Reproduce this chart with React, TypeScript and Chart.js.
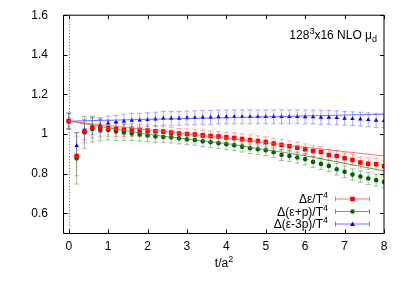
import { useEffect, useRef } from "react";
import { Chart, registerables } from "chart.js";

Chart.register(...registerables);

const FONT = '"Liberation Sans", Arial, Helvetica, sans-serif';

// flow time t/a^2
const tValues = [
  0, 0.2, 0.4, 0.6, 0.8, 1.0, 1.2, 1.4, 1.6, 1.8, 2.0, 2.2, 2.4, 2.6, 2.8, 3.0, 3.2, 3.4, 3.6, 3.8,
  4.0, 4.2, 4.4, 4.6, 4.8, 5.0, 5.2, 5.4, 5.6, 5.8, 6.0, 6.2, 6.4, 6.6, 6.8, 7.0, 7.2, 7.4, 7.6, 7.8, 8.0,
];

// Δε/T^4
const epsValues = [
  1.065, 0.889, 1.015, 1.032, 1.03, 1.029, 1.025, 1.022, 1.02, 1.018, 1.017, 1.014, 1.012, 1.007, 1.002, 1.0, 0.998, 0.993, 0.99, 0.987,
  0.983, 0.98, 0.975, 0.97, 0.965, 0.96, 0.952, 0.945, 0.938, 0.931, 0.923, 0.914, 0.909, 0.894, 0.889, 0.877, 0.869, 0.856, 0.85, 0.847, 0.837,
];
const epsErrors = [
  0.04, 0.1, 0.06, 0.052, 0.045, 0.04, 0.037, 0.034, 0.032, 0.03, 0.029, 0.028, 0.027, 0.027, 0.026, 0.026, 0.026, 0.026, 0.026, 0.026,
  0.026, 0.026, 0.026, 0.026, 0.026, 0.026, 0.026, 0.027, 0.027, 0.027, 0.027, 0.027, 0.027, 0.028, 0.028, 0.028, 0.028, 0.028, 0.029, 0.029, 0.029,
];

// Δ(ε+p)/T^4
const enthValues = [
  1.065, 0.877, 1.008, 1.025, 1.02, 1.02, 1.013, 1.008, 1.003, 0.998, 0.993, 0.988, 0.985, 0.983, 0.978, 0.973, 0.97, 0.963, 0.958, 0.953,
  0.948, 0.943, 0.936, 0.928, 0.923, 0.918, 0.908, 0.894, 0.889, 0.881, 0.873, 0.859, 0.849, 0.839, 0.822, 0.809, 0.795, 0.785, 0.775, 0.767, 0.758,
];
const enthErrors = [
  0.04, 0.13, 0.08, 0.065, 0.055, 0.05, 0.045, 0.04, 0.036, 0.033, 0.031, 0.03, 0.029, 0.028, 0.028, 0.027, 0.027, 0.027, 0.027, 0.027,
  0.027, 0.027, 0.027, 0.027, 0.027, 0.027, 0.027, 0.028, 0.028, 0.028, 0.028, 0.028, 0.028, 0.029, 0.029, 0.029, 0.029, 0.029, 0.03, 0.03, 0.03,
];

// Δ(ε-3p)/T^4
const traceValues = [
  1.065, 0.941, 1.02, 1.04, 1.045, 1.054, 1.059, 1.065, 1.069, 1.07, 1.072, 1.075, 1.079, 1.079, 1.079, 1.081, 1.082, 1.084, 1.084, 1.086,
  1.086, 1.087, 1.087, 1.087, 1.087, 1.087, 1.087, 1.087, 1.087, 1.087, 1.086, 1.086, 1.084, 1.084, 1.082, 1.079, 1.077, 1.075, 1.072, 1.069, 1.067,
];
const traceErrors = [
  0.04, 0.065, 0.05, 0.042, 0.038, 0.036, 0.035, 0.035, 0.035, 0.035, 0.035, 0.035, 0.035, 0.035, 0.035, 0.035, 0.035, 0.035, 0.035, 0.035,
  0.035, 0.035, 0.035, 0.035, 0.035, 0.035, 0.035, 0.035, 0.035, 0.035, 0.035, 0.035, 0.035, 0.035, 0.035, 0.035, 0.035, 0.035, 0.035, 0.035, 0.035,
];

// fitted curves
const fitT = [0, 2, 4, 6, 8];
const fitEps = [1.065, 1.021, 0.979, 0.933, 0.889];
const fitEnth = [1.065, 0.998, 0.952, 0.89, 0.814];
const fitTrace = [1.065, 1.074, 1.082, 1.091, 1.1];

const xTickValues = [0, 1, 2, 3, 4, 5, 6, 7, 8];
const yTickValues = [0.6, 0.8, 1.0, 1.2, 1.4, 1.6];
const X_MIN = -0.12;
const X_MAX = 8;
const Y_MIN = 0.5;
const Y_MAX = 1.6;

type Part = { text: string; mode?: "sup" | "sub" };

const legendItems: { parts: Part[]; color: string; bar: string; style: string }[] = [
  { parts: [{ text: "Δε/T" }, { text: "4", mode: "sup" }], color: "#ff0000", bar: "rgba(255,60,60,0.7)", style: "rect" },
  { parts: [{ text: "Δ(ε+p)/T" }, { text: "4", mode: "sup" }], color: "#006400", bar: "rgba(40,130,40,0.7)", style: "circle" },
  { parts: [{ text: "Δ(ε-3p)/T" }, { text: "4", mode: "sup" }], color: "#0000ff", bar: "rgba(60,60,255,0.7)", style: "triangle" },
];

const titleParts: Part[] = [
  { text: "128" },
  { text: "3", mode: "sup" },
  { text: "x16 NLO μ" },
  { text: "d", mode: "sub" },
];
const xTitleParts: Part[] = [{ text: "t/a" }, { text: "2", mode: "sup" }];

function drawParts(ctx: CanvasRenderingContext2D, parts: Part[], x: number, y: number, align: "left" | "right" | "center") {
  const main = `12px ${FONT}`;
  const small = `9px ${FONT}`;
  let total = 0;
  const widths = parts.map((p) => {
    ctx.font = p.mode ? small : main;
    const w = ctx.measureText(p.text).width;
    total += w;
    return w;
  });
  let cx = align === "left" ? x : align === "right" ? x - total : x - total / 2;
  ctx.textAlign = "left";
  ctx.textBaseline = "alphabetic";
  parts.forEach((p, i) => {
    ctx.font = p.mode ? small : main;
    const dy = p.mode === "sup" ? -5 : p.mode === "sub" ? 3 : 0;
    ctx.fillText(p.text, cx, y + dy);
    cx += widths[i];
  });
}

const errorBarPlugin = {
  id: "errorBars",
  beforeDatasetsDraw(chart: any) {
    const ctx = chart.ctx as CanvasRenderingContext2D;
    const xs = chart.scales.x;
    const ys = chart.scales.y;
    const area = chart.chartArea;
    ctx.save();
    ctx.beginPath();
    ctx.rect(area.left, area.top, area.right - area.left, area.bottom - area.top);
    ctx.clip();
    // dotted line at t = 0
    const x0 = Math.round(xs.getPixelForValue(0)) + 0.5;
    ctx.strokeStyle = "#666";
    ctx.lineWidth = 1;
    ctx.setLineDash([1, 2]);
    ctx.beginPath();
    ctx.moveTo(x0, area.top);
    ctx.lineTo(x0, area.bottom);
    ctx.stroke();
    ctx.setLineDash([]);
    chart.data.datasets.forEach((ds: any) => {
      if (!ds.errors) return;
      ctx.strokeStyle = ds.errorColor;
      ctx.lineWidth = 1;
      ds.data.forEach((pt: any, i: number) => {
        const e = ds.errors[i];
        const px = xs.getPixelForValue(pt.x);
        const pTop = ys.getPixelForValue(pt.y + e);
        const pBot = ys.getPixelForValue(pt.y - e);
        const cap = 2.5;
        ctx.beginPath();
        ctx.moveTo(px, pTop);
        ctx.lineTo(px, pBot);
        ctx.moveTo(px - cap, pTop);
        ctx.lineTo(px + cap, pTop);
        ctx.moveTo(px - cap, pBot);
        ctx.lineTo(px + cap, pBot);
        ctx.stroke();
      });
    });
    ctx.restore();
  },
  afterDatasetsDraw(chart: any) {
    const ctx = chart.ctx as CanvasRenderingContext2D;
    const xs = chart.scales.x;
    const ys = chart.scales.y;
    const { left, right, top, bottom } = chart.chartArea;
    ctx.save();
    // frame
    ctx.strokeStyle = "#000";
    ctx.lineWidth = 1;
    const L = left - 0.5;
    const B = bottom + 0.5;
    ctx.beginPath();
    ctx.moveTo(L, top);
    ctx.lineTo(right, top);
    ctx.lineTo(right, B);
    ctx.lineTo(L, B);
    ctx.closePath();
    ctx.stroke();
    // inward ticks
    const tl = 4;
    ctx.beginPath();
    xTickValues.forEach((v) => {
      const px = Math.round(xs.getPixelForValue(v)) + 0.5;
      ctx.moveTo(px, B);
      ctx.lineTo(px, B - tl);
      ctx.moveTo(px, top);
      ctx.lineTo(px, top + tl);
    });
    yTickValues.forEach((v) => {
      const py = Math.round(ys.getPixelForValue(v)) + 0.5;
      ctx.moveTo(L, py);
      ctx.lineTo(L + tl, py);
      ctx.moveTo(right, py);
      ctx.lineTo(right - tl, py);
    });
    ctx.stroke();

    // title
    ctx.fillStyle = "#000";
    drawParts(ctx, titleParts, 377, 39, "right");
    // x axis title
    drawParts(ctx, xTitleParts, (left + right) / 2, 267, "center");

    // legend
    const rows = [199, 211.5, 224];
    legendItems.forEach((it, i) => {
      const y = rows[i];
      ctx.fillStyle = "#000";
      drawParts(ctx, it.parts, 328, y + 4, "right");
      const x1 = 335;
      const x2 = 370;
      ctx.strokeStyle = it.bar;
      ctx.lineWidth = 1;
      ctx.beginPath();
      ctx.moveTo(x1, y);
      ctx.lineTo(x2, y);
      ctx.moveTo(x1 + 0.5, y - 2.5);
      ctx.lineTo(x1 + 0.5, y + 2.5);
      ctx.moveTo(x2 - 0.5, y - 2.5);
      ctx.lineTo(x2 - 0.5, y + 2.5);
      ctx.stroke();
      ctx.fillStyle = it.color;
      const cx = (x1 + x2) / 2;
      ctx.beginPath();
      if (it.style === "rect") ctx.rect(cx - 2.3, y - 2.3, 4.6, 4.6);
      else if (it.style === "circle") ctx.arc(cx, y, 2.2, 0, Math.PI * 2);
      else {
        ctx.moveTo(cx, y - 2.5);
        ctx.lineTo(cx + 2.5, y + 2);
        ctx.lineTo(cx - 2.5, y + 2);
        ctx.closePath();
      }
      ctx.fill();
    });
    ctx.restore();
  },
};

function pts(xsArr: number[], ysArr: number[]) {
  return xsArr.map((x, i) => ({ x, y: ysArr[i] }));
}

export default function App() {
  const ref = useRef<HTMLCanvasElement | null>(null);
  useEffect(() => {
    document.body.style.margin = "0";
    const canvas = ref.current;
    if (!canvas) return;
    const chart = new Chart(canvas, {
      type: "scatter",
      data: {
        datasets: [
          {
            label: "fit ε",
            data: pts(fitT, fitEps),
            showLine: true,
            borderColor: "rgba(255,80,80,0.8)",
            borderWidth: 1,
            pointRadius: 0,
          },
          {
            label: "fit ε+p",
            data: pts(fitT, fitEnth),
            showLine: true,
            borderColor: "rgba(60,140,60,0.8)",
            borderWidth: 1,
            pointRadius: 0,
          },
          {
            label: "fit ε-3p",
            data: pts(fitT, fitTrace),
            showLine: true,
            borderColor: "rgba(80,80,255,0.8)",
            borderWidth: 1,
            pointRadius: 0,
          },
          {
            label: "Δε/T4",
            data: pts(tValues, epsValues),
            errors: epsErrors,
            errorColor: "rgba(255,70,70,0.45)",
            pointStyle: "rect",
            pointRadius: 3.2,
            backgroundColor: "#ff0000",
            borderColor: "#ff0000",
            borderWidth: 0,
          } as any,
          {
            label: "Δ(ε+p)/T4",
            data: pts(tValues, enthValues),
            errors: enthErrors,
            errorColor: "rgba(40,130,40,0.45)",
            pointStyle: "circle",
            pointRadius: 2.3,
            backgroundColor: "#006400",
            borderColor: "#006400",
            borderWidth: 0,
          } as any,
          {
            label: "Δ(ε-3p)/T4",
            data: pts(tValues, traceValues),
            errors: traceErrors,
            errorColor: "rgba(70,70,255,0.45)",
            pointStyle: "triangle",
            pointRadius: 2.6,
            backgroundColor: "#0000ff",
            borderColor: "#0000ff",
            borderWidth: 0,
          } as any,
        ],
      },
      options: {
        animation: false,
        responsive: false,
        events: [],
        layout: { padding: { top: 15, right: 25, left: 0, bottom: 0 } },
        plugins: { legend: { display: false }, tooltip: { enabled: false } },
        scales: {
          x: {
            type: "linear",
            min: X_MIN,
            max: X_MAX,
            afterBuildTicks: (s: any) => {
              s.ticks = xTickValues.map((v) => ({ value: v }));
            },
            afterFit: (s: any) => {
              s.height = 53;
            },
            grid: { display: false },
            border: { display: false },
            ticks: {
              padding: -2,
              color: "#000",
              font: { family: FONT, size: 12 },
              maxRotation: 0,
              callback: (v: any) => String(Number(Number(v).toFixed(1))),
            },
          },
          y: {
            type: "linear",
            min: Y_MIN,
            max: Y_MAX,
            afterBuildTicks: (s: any) => {
              s.ticks = yTickValues.map((v) => ({ value: v }));
            },
            afterFit: (s: any) => {
              s.width = 64;
            },
            grid: { display: false },
            border: { display: false },
            ticks: {
              padding: 8,
              color: "#000",
              font: { family: FONT, size: 12 },
              callback: (v: any) => String(Number(Number(v).toFixed(1))),
            },
          },
        },
      },
      plugins: [errorBarPlugin],
    });
    return () => chart.destroy();
  }, []);
  return (
    <div style={{ width: 409, height: 286 }}>
      <canvas ref={ref} width={409} height={286} style={{ display: "block", width: 409, height: 286 }} />
    </div>
  );
}
